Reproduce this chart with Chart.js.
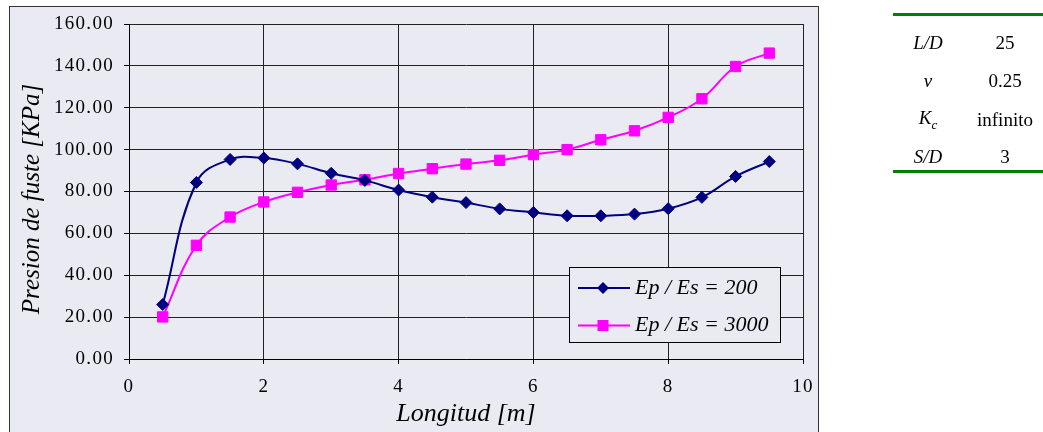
<!DOCTYPE html>
<html lang="es">
<head>
  <meta charset="UTF-8" />
  <title>Presion de fuste</title>
  <script src="https://cdn.jsdelivr.net/npm/chart.js@4/dist/chart.umd.js"></script>
  <style>
    body { margin: 0; background: #fff; width: 1043px; height: 432px; overflow: hidden; position: relative; }
    #marco { position: absolute; left: 9px; top: 6px; width: 808px; height: 440px; border: 1px solid #333; background: #eaeaf2; }
    #grafico { position: absolute; left: 0; top: 0; }
    .tabla { position: absolute; font-family: "Liberation Serif", serif; font-size: 19px; color: #000; }
    .linea { position: absolute; left: 893px; width: 150px; height: 3px; background: #008000; }
    .celda { position: absolute; width: 80px; text-align: center; transform: translateY(-50%); }
    .celda i sub { font-size: 13px; }
  </style>
</head>
<body>
  <div id="marco"></div>
  <canvas id="grafico" width="1043" height="432"></canvas>

  <div class="linea" style="top:13px"></div>
  <div class="linea" style="top:170px"></div>
  <div class="tabla" id="tabla"></div>

  <script>
    // datos
    const longitud = [0.5, 1, 1.5, 2, 2.5, 3, 3.5, 4, 4.5, 5, 5.5, 6, 6.5, 7, 7.5, 8, 8.5, 9, 9.5];
    const ep200  = [26.0, 84.3, 95.3, 96.0, 93.2, 88.7, 85.3, 80.7, 77.3, 74.7, 71.7, 70.0, 68.4, 68.4, 69.2, 71.8, 77.2, 87.2, 94.3];
    const ep3000 = [20.1, 54.3, 67.8, 75.0, 79.6, 83.1, 85.6, 88.6, 90.9, 93.1, 94.9, 97.6, 100.0, 104.7, 109.0, 115.4, 124.3, 139.7, 146.1];
    const series = ["Ep / Es = 200", "Ep / Es = 3000"];
    const yTicks = [0, 20, 40, 60, 80, 100, 120, 140, 160];
    const xTicks = [0, 2, 4, 6, 8, 10];

    const etiquetas = ["<i>L/D</i>", "<i>ν</i>", "<i>K<sub>c</sub></i>", "<i>S/D</i>"];
    const valores = ["25", "0.25", "infinito", "3"];
    const filasY = [43, 81, 120, 157];

    const fondo = "#eaeaf2";
    const fuente = "'Liberation Serif', 'Times New Roman', serif";

    // tabla de parametros
    const tabla = document.getElementById("tabla");
    etiquetas.forEach((et, i) => {
      tabla.innerHTML += `<div class="celda" style="left:888px;top:${filasY[i]}px">${et}</div>`;
      tabla.innerHTML += `<div class="celda" style="left:965px;top:${filasY[i]}px">${valores[i]}</div>`;
    });

    const toXY = (xs, ys) => xs.map((x, i) => ({ x: x, y: ys[i] }));

    // espaciado de letras para los numeros de los ejes
    const espaciado = {
      id: "espaciado",
      beforeDraw(chart) { chart.ctx.letterSpacing = "1.3px"; },
      afterDatasetsDraw(chart) { chart.ctx.letterSpacing = "0px"; }
    };

    // titulos de ejes y leyenda dentro del area
    const extras = {
      id: "extras",
      afterDraw(chart) {
        const ctx = chart.ctx;
        const area = chart.chartArea;
        ctx.save();
        ctx.letterSpacing = "0px";
        ctx.fillStyle = "#000";

        ctx.font = "italic 26px " + fuente;
        ctx.textAlign = "center";
        ctx.textBaseline = "alphabetic";
        ctx.fillText("Longitud [m]", (area.left + area.right) / 2, 421);

        ctx.save();
        ctx.translate(39, 199);
        ctx.rotate(-Math.PI / 2);
        ctx.font = "italic 25px " + fuente;
        ctx.fillText("Presion de fuste [KPa]", 0, 0);
        ctx.restore();

        // leyenda
        const bx = 569, by = 267, bw = 211, bh = 75;
        ctx.fillStyle = fondo;
        ctx.fillRect(bx, by, bw, bh);
        ctx.strokeStyle = "#000";
        ctx.lineWidth = 1;
        ctx.strokeRect(bx + 0.5, by + 0.5, bw, bh);

        const filas = [288, 325.5];
        chart.data.datasets.forEach((ds, i) => {
          const y = filas[i];
          ctx.strokeStyle = ds.borderColor;
          ctx.lineWidth = 2;
          ctx.beginPath();
          ctx.moveTo(578, y);
          ctx.lineTo(630, y);
          ctx.stroke();
          ctx.fillStyle = ds.borderColor;
          ctx.beginPath();
          if (ds.pointStyle === "rectRot") {
            ctx.moveTo(603 - 6, y);
            ctx.lineTo(603, y - 6);
            ctx.lineTo(603 + 6, y);
            ctx.lineTo(603, y + 6);
            ctx.closePath();
          } else {
            ctx.rect(603 - 5.5, y - 5.5, 11, 11);
          }
          ctx.fill();
          ctx.fillStyle = "#000";
          ctx.font = "italic 22px " + fuente;
          ctx.textAlign = "left";
          ctx.textBaseline = "alphabetic";
          ctx.fillText(ds.label, 635, y + 5.5);
        });
        ctx.restore();
      }
    };

    const ctx = document.getElementById("grafico").getContext("2d");
    new Chart(ctx, {
      type: "line",
      data: {
        datasets: [
          {
            label: series[0],
            data: toXY(longitud, ep200),
            borderColor: "#000080",
            backgroundColor: "#000080",
            borderWidth: 2,
            pointStyle: "rectRot",
            pointRadius: 6,
            pointBorderWidth: 1,
            tension: 0.4
          },
          {
            label: series[1],
            data: toXY(longitud, ep3000),
            borderColor: "#ff00ff",
            backgroundColor: "#ff00ff",
            borderWidth: 2,
            pointStyle: "rect",
            pointRadius: 7.3,
            pointBorderWidth: 1,
            tension: 0.4
          }
        ]
      },
      options: {
        responsive: false,
        animation: false,
        layout: { padding: { left: 0, top: 24, right: 240, bottom: 0 } },
        plugins: {
          legend: { display: false },
          tooltip: { enabled: false }
        },
        scales: {
          x: {
            type: "linear",
            min: 0,
            max: 10,
            afterBuildTicks: (s) => { s.ticks = xTicks.map(v => ({ value: v })); },
            afterFit: (s) => { s.height = 73; },
            grid: { color: "#222", lineWidth: 1, tickLength: 5, tickColor: "#000" },
            border: { color: "#000", width: 1 },
            ticks: {
              padding: 12,
              color: "#000",
              maxRotation: 0,
              font: { family: fuente, size: 19 }
            }
          },
          y: {
            min: 0,
            max: 160,
            afterBuildTicks: (s) => { s.ticks = yTicks.map(v => ({ value: v })); },
            afterFit: (s) => { s.width = 129; },
            grid: { color: "#222", lineWidth: 1, tickLength: 5, tickColor: "#000" },
            border: { color: "#000", width: 1 },
            ticks: {
              padding: 10,
              color: "#000",
              font: { family: fuente, size: 19 },
              callback: (v) => Number(v).toFixed(2)
            }
          }
        }
      },
      plugins: [espaciado, extras]
    });
  </script>
</body>
</html>
